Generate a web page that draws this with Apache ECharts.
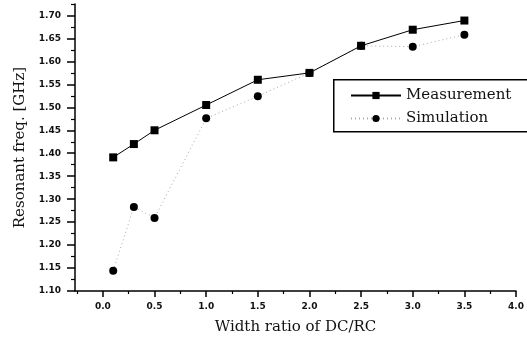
<!DOCTYPE html>
<html><head><meta charset="utf-8">
<script src="https://cdn.jsdelivr.net/npm/echarts@6/dist/echarts.min.js"></script>
<style>html,body{margin:0;padding:0;background:#fff}#c{width:527px;height:340px}</style>
</head><body><div id="c"></div>
<script>
var widthRatio = [0.1, 0.3, 0.5, 1.0, 1.5, 2.0, 2.5, 3.0, 3.5];
var measurement = [1.391, 1.420, 1.450, 1.505, 1.560, 1.575, 1.634, 1.669, 1.689];
var simulation  = [1.144, 1.283, 1.259, 1.476, 1.524, 1.575, 1.634, 1.632, 1.658];
var xTicks = [0.0, 0.5, 1.0, 1.5, 2.0, 2.5, 3.0, 3.5, 4.0];
var xMinor = [-0.25, 0.25, 0.75, 1.25, 1.75, 2.25, 2.75, 3.25, 3.75];
var yTicks = [1.10, 1.15, 1.20, 1.25, 1.30, 1.35, 1.40, 1.45, 1.50, 1.55, 1.60, 1.65, 1.70];
var yMinor = [1.125, 1.175, 1.225, 1.275, 1.325, 1.375, 1.425, 1.475, 1.525, 1.575, 1.625, 1.675, 1.725];

var pair = function (xs, ys) { return xs.map(function (x, i) { return [x, ys[i]]; }); };
var serif = 'DejaVu Serif';
var lbl = {fontFamily: 'DejaVu Sans', fontSize: 9, fontWeight: 'bold', color: '#111'};

var chart = echarts.init(document.getElementById('c'), null, {renderer: 'canvas'});
chart.setOption({
  animation: false,
  backgroundColor: '#fff',
  grid: {left: 75, right: 8, top: 4, bottom: 49},
  xAxis: [{
    type: 'value', min: -0.27, max: 4.0, position: 'bottom',
    name: 'Width ratio of DC/RC', nameLocation: 'middle', nameGap: 29,
    nameTextStyle: {fontFamily: serif, fontSize: 15, color: '#111'},
    axisLine: {show: true, onZero: false, lineStyle: {color: '#000', width: 1.5}},
    axisTick: {show: true, inside: false, length: 6, customValues: xTicks, lineStyle: {color: '#000', width: 1.5}},
    axisLabel: Object.assign({customValues: xTicks, margin: 11, formatter: function (v) { return v.toFixed(1); }}, lbl),
    splitLine: {show: false}
  }, {
    type: 'value', min: -0.27, max: 4.0, position: 'bottom',
    axisLine: {show: false, onZero: false},
    axisTick: {show: true, length: 3, customValues: xMinor, lineStyle: {color: '#000', width: 1.2}},
    axisLabel: {show: false}, splitLine: {show: false}
  }],
  yAxis: [{
    type: 'value', min: 1.10, max: 1.725, position: 'left',
    name: 'Resonant freq. [GHz]', nameLocation: 'middle', nameGap: 40, nameRotate: 90,
    nameTextStyle: {fontFamily: serif, fontSize: 15, color: '#111'},
    axisLine: {show: true, onZero: false, lineStyle: {color: '#000', width: 1.5}},
    axisTick: {show: true, inside: false, length: 8, customValues: yTicks, lineStyle: {color: '#000', width: 1.5}},
    axisLabel: Object.assign({customValues: yTicks, margin: 14, formatter: function (v) { return v.toFixed(2); }}, lbl),
    splitLine: {show: false}
  }, {
    type: 'value', min: 1.10, max: 1.725, position: 'left',
    axisLine: {show: false, onZero: false},
    axisTick: {show: true, length: 4, customValues: yMinor, lineStyle: {color: '#000', width: 1.2}},
    axisLabel: {show: false}, splitLine: {show: false}
  }],
  legend: {
    orient: 'vertical', left: 350, top: 88, itemWidth: 50, itemHeight: 9, itemGap: 8,
    padding: 0,
    textStyle: {fontFamily: serif, fontSize: 15, color: '#111'},
    data: ['Measurement', 'Simulation']
  },
  graphic: [{
    type: 'rect', left: 333, top: 79, shape: {width: 200, height: 52},
    style: {fill: 'rgba(0,0,0,0)', stroke: '#000', lineWidth: 1.5}, z: 0
  }],
  series: [{
    name: 'Measurement', type: 'line', data: pair(widthRatio, measurement),
    symbol: 'rect', symbolSize: 8,
    lineStyle: {color: '#000', width: 1}, itemStyle: {color: '#000'}, z: 3
  }, {
    name: 'Simulation', type: 'line', data: pair(widthRatio, simulation),
    symbol: 'circle', symbolSize: 8,
    lineStyle: {color: '#aaa', width: 1, type: [1, 3]}, itemStyle: {color: '#000'}, z: 2
  }]
});
</script></body></html>
